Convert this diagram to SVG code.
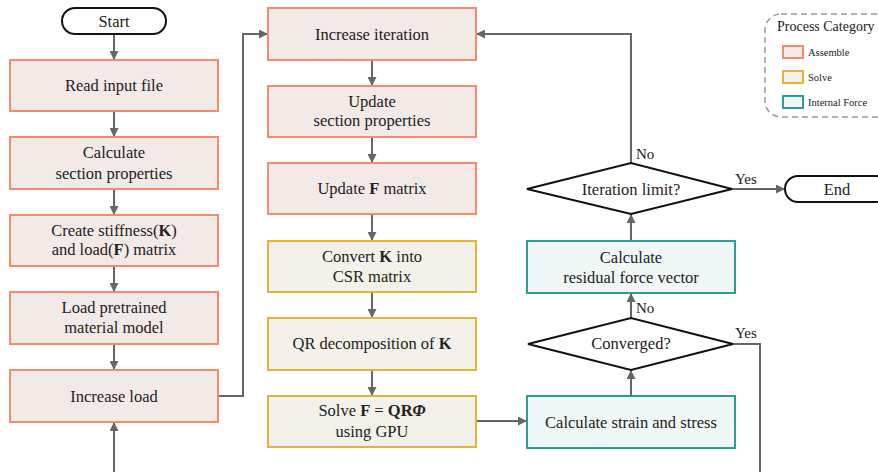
<svg xmlns="http://www.w3.org/2000/svg" width="878" height="472" viewBox="0 0 878 472">
<style>
text{font-family:"Times New Roman",Tinos,"Nimbus Roman","Nimbus Roman No9 L",FreeSerif,"Liberation Serif","DejaVu Serif",serif;fill:#222;text-anchor:middle}
.t{font-size:16.5px}
.lbl{font-size:15px;text-anchor:start}
.as{fill:#f2eae7;stroke:#f58a6c;stroke-width:2}
.so{fill:#f4f1ea;stroke:#e6b23e;stroke-width:2}
.inf{fill:#eff7f7;stroke:#2f9c98;stroke-width:2}
.term{fill:#fff;stroke:#111;stroke-width:2}
.dec{fill:#fff;stroke:#111;stroke-width:2}
.c{fill:none;stroke:#666;stroke-width:2;marker-end:url(#ah)}
.cn{fill:none;stroke:#666;stroke-width:2}
.lg{font-size:10.5px;text-anchor:start}
</style>
<defs>
<marker id="ah" viewBox="0 0 10 10" refX="10" refY="5" markerWidth="4.5" markerHeight="4.5" orient="auto" markerUnits="strokeWidth">
<path d="M0,0 L10,5 L0,10 z" fill="#666"/>
</marker>
</defs>

<g id="connectors">
<path class="c" d="M114,34 V60"/>
<path class="c" d="M114,111 V137"/>
<path class="c" d="M114,189 V215"/>
<path class="c" d="M114,266 V292"/>
<path class="c" d="M114,344 V370"/>
<path class="c" d="M114,472 V422"/>
<path class="c" d="M218,396 H243 V34 H268"/>
<path class="c" d="M372,60 V86"/>
<path class="c" d="M372,137 V163"/>
<path class="c" d="M372,214 V241"/>
<path class="c" d="M372,292 V318"/>
<path class="c" d="M372,370 V396"/>
<path class="c" d="M476,421 H527"/>
<path class="c" d="M631,396 V370"/>
<path class="c" d="M631,318 V293"/>
<path class="c" d="M631,241 V214"/>
<path class="c" d="M631,163 V34 H476"/>
<path class="c" d="M732,189 H785"/>
<path class="cn" d="M733,344 H760 V472"/>
<text class="lbl" x="636" y="159">No</text>
<text class="lbl" x="735" y="184">Yes</text>
<text class="lbl" x="636" y="313">No</text>
<text class="lbl" x="735" y="338">Yes</text>
</g>

<g id="start"><rect class="term" x="62" y="8" width="104" height="26" rx="13"/><text class="t" x="114" y="27">Start</text></g>
<g id="read"><rect class="as" x="10" y="60" width="208" height="51"/><text class="t" x="114" y="91">Read input file</text></g>
<g id="calc-sec"><rect class="as" x="10" y="137" width="208" height="52"/><text class="t" x="114" y="158">Calculate</text><text class="t" x="114" y="179">section properties</text></g>
<g id="create-k"><rect class="as" x="10" y="215" width="208" height="51"/><text class="t" x="114" y="236">Create stiffness(<tspan font-weight="bold">K</tspan>)</text><text class="t" x="114" y="255">and load(<tspan font-weight="bold">F</tspan>) matrix</text></g>
<g id="load-model"><rect class="as" x="10" y="292" width="208" height="52"/><text class="t" x="114" y="313">Load pretrained</text><text class="t" x="114" y="333">material model</text></g>
<g id="inc-load"><rect class="as" x="10" y="370" width="208" height="52"/><text class="t" x="114" y="402">Increase load</text></g>

<g id="inc-iter"><rect class="as" x="268" y="8" width="208" height="52"/><text class="t" x="372" y="40">Increase iteration</text></g>
<g id="upd-sec"><rect class="as" x="268" y="86" width="208" height="51"/><text class="t" x="372" y="107">Update</text><text class="t" x="372" y="126">section properties</text></g>
<g id="upd-f"><rect class="as" x="268" y="163" width="208" height="51"/><text class="t" x="372" y="194">Update <tspan font-weight="bold">F</tspan> matrix</text></g>
<g id="csr"><rect class="so" x="268" y="241" width="208" height="51"/><text class="t" x="372" y="262">Convert <tspan font-weight="bold">K</tspan> into</text><text class="t" x="372" y="282">CSR matrix</text></g>
<g id="qr"><rect class="so" x="268" y="318" width="208" height="52"/><text class="t" x="372" y="349">QR decomposition of <tspan font-weight="bold">K</tspan></text></g>
<g id="solve"><rect class="so" x="268" y="396" width="208" height="51"/><text class="t" x="372" y="416">Solve <tspan font-weight="bold">F</tspan> = <tspan font-weight="bold">QR</tspan><tspan font-weight="bold" font-style="italic">Φ</tspan></text><text class="t" x="372" y="437">using GPU</text></g>

<g id="strain"><rect class="inf" x="527" y="396" width="208" height="52"/><text class="t" x="631" y="428">Calculate strain and stress</text></g>
<g id="converged"><path class="dec" d="M528,344 L631,318 L733,344 L631,370 Z"/><text class="t" x="631" y="349">Converged?</text></g>
<g id="residual"><rect class="inf" x="527" y="241" width="208" height="52"/><text class="t" x="631" y="263">Calculate</text><text class="t" x="631" y="283">residual force vector</text></g>
<g id="iter-limit"><path class="dec" d="M527,189 L631,163 L732,189 L631,214 Z"/><text class="t" x="631" y="195">Iteration limit?</text></g>
<g id="end"><rect class="term" x="785" y="176" width="104" height="26" rx="13"/><text class="t" x="837" y="195">End</text></g>

<g id="legend">
<rect x="765" y="14" width="130" height="103" rx="16" fill="#fff" stroke="#999" stroke-width="1.5" stroke-dasharray="6,4"/>
<text x="777" y="31" style="font-size:14px;text-anchor:start">Process Category</text>
<rect class="as" x="783" y="46" width="20" height="12"/><text class="lg" x="808" y="56">Assemble</text>
<rect class="so" x="783" y="71" width="20" height="12"/><text class="lg" x="808" y="81">Solve</text>
<rect class="inf" x="783" y="96" width="20" height="12"/><text class="lg" x="808" y="106">Internal Force</text>
</g>
</svg>
